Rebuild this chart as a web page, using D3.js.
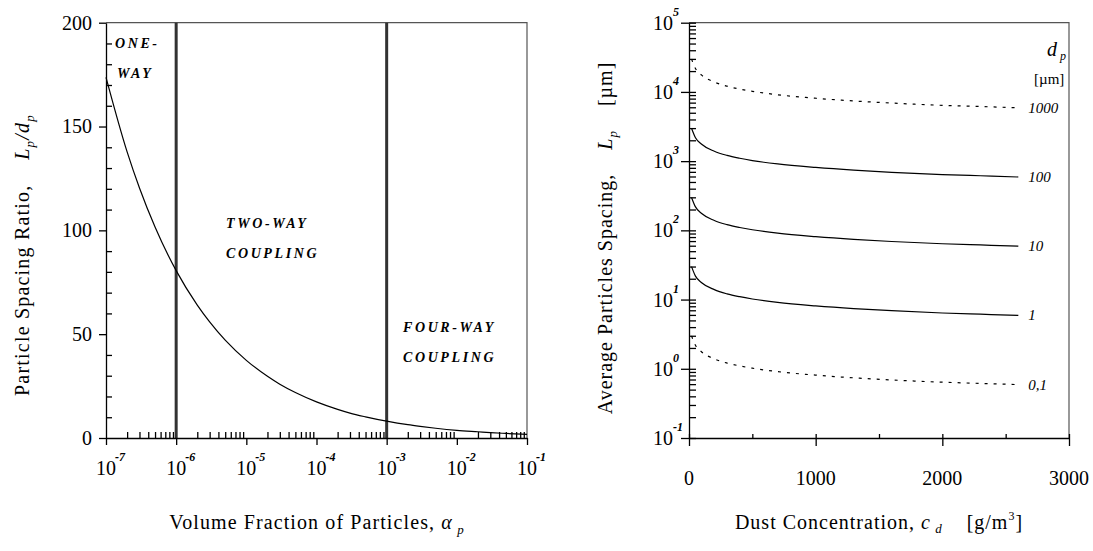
<!DOCTYPE html>
<html>
<head>
<meta charset="utf-8">
<script src="https://cdn.jsdelivr.net/npm/d3@7"></script>
<style>
  body { margin: 0; background: #fff; }
  svg { font-family: "Liberation Serif", serif; }
  text { white-space: pre; }
  .lab { font-weight: bold; font-style: italic; font-size: 14px; letter-spacing: 2.6px; }
</style>
</head>
<body>
<svg width="1093" height="551"></svg>
<script>
// left chart: particle spacing ratio vs volume fraction
const alphaValues = [1e-7, 2e-7, 3e-7, 5e-7, 1e-6, 2e-6, 3e-6, 5e-6, 1e-5, 2e-5, 3e-5, 5e-5,
  1e-4, 2e-4, 3e-4, 5e-4, 1e-3, 2e-3, 3e-3, 5e-3, 1e-2, 2e-2, 3e-2, 5e-2, 1e-1];
const ratioValues = [173.7, 137.8, 120.4, 101.6, 80.6, 64.0, 55.9, 47.1, 37.4, 29.7, 25.9, 21.9,
  17.4, 13.8, 12.0, 10.2, 8.1, 6.4, 5.6, 4.7, 3.7, 3.0, 2.6, 2.2, 1.7];
const leftYTicks = [0, 50, 100, 150, 200];
const leftXExp = [-7, -6, -5, -4, -3, -2, -1];
const regimeBounds = [1e-6, 1e-3];

// right chart: average particle spacing vs dust concentration
const concValues = [20, 50, 100, 200, 300, 400, 500, 700, 1000, 1300, 1600, 2000, 2300, 2600];
const lp1000 = [29900, 22000, 17500, 13900, 12100, 11000, 10200, 9100, 8100, 7400, 6900, 6400, 6150, 5900];
const lp100 = [2990, 2200, 1750, 1390, 1210, 1100, 1020, 910, 810, 740, 690, 640, 615, 590];
const lp10 = [299, 220, 175, 139, 121, 110, 102, 91, 81, 74, 69, 64, 61.5, 59];
const lp1 = [29.9, 22, 17.5, 13.9, 12.1, 11, 10.2, 9.1, 8.1, 7.4, 6.9, 6.4, 6.15, 5.9];
const lp01 = [2.99, 2.2, 1.75, 1.39, 1.21, 1.1, 1.02, 0.91, 0.81, 0.74, 0.69, 0.64, 0.615, 0.59];
const dpLabels = ["1000", "100", "10", "1", "0,1"];
const dpSeries = [lp1000, lp100, lp10, lp1, lp01];
const dpDashed = [true, false, false, false, true];
const rightXTicks = [0, 1000, 2000, 3000];
const rightYExp = [-1, 0, 1, 2, 3, 4, 5];

const svg = d3.select("svg");
const top0 = 22.7, bottom0 = 438;

// ---------- left chart ----------
const lx = d3.scaleLog().domain([1e-7, 1e-1]).range([106, 527]);
const ly = d3.scaleLinear().domain([0, 200]).range([bottom0, top0]);

// frame
svg.append("path")
  .attr("d", `M${lx.range()[0]},${top0}H${lx.range()[1]}V${bottom0}`)
  .attr("fill", "none").attr("stroke", "#555").attr("stroke-width", 1.2);

// regime boundaries
svg.selectAll(".bound").data(regimeBounds).enter().append("line")
  .attr("x1", d => lx(d)).attr("x2", d => lx(d))
  .attr("y1", top0).attr("y2", bottom0)
  .attr("stroke", "#333").attr("stroke-width", 3);

const lMajor = leftXExp.map(e => Math.pow(10, e));
const lMinor = lx.ticks().filter(d => !lMajor.some(m => Math.abs(m - d) / d < 1e-6));

svg.append("g").attr("transform", `translate(0,${bottom0})`)
  .call(d3.axisBottom(lx).tickValues(lMajor).tickSize(7).tickSizeOuter(0).tickFormat(""));
svg.append("g").attr("transform", `translate(0,${bottom0})`)
  .call(d3.axisBottom(lx).tickValues(lMinor).tickSize(-6).tickSizeOuter(0).tickFormat(""))
  .call(g => g.select(".domain").remove());

svg.append("g").attr("transform", `translate(${lx.range()[0]},0)`)
  .call(d3.axisLeft(ly).tickValues(leftYTicks).tickSize(7).tickSizeOuter(0).tickPadding(7))
  .call(g => g.selectAll("text").attr("font-size", 20).attr("font-family", "Liberation Serif"));
svg.append("g").attr("transform", `translate(${lx.range()[0]},0)`)
  .call(d3.axisLeft(ly).tickValues(d3.range(10, 200, 10).filter(d => d % 50 != 0)).tickSize(-6).tickFormat(""))
  .call(g => g.select(".domain").remove());
svg.selectAll(".domain, .tick line").attr("stroke-width", 1.3);

// x tick labels 10^e
const lxl = svg.append("g").selectAll("text").data(leftXExp).enter().append("text")
  .attr("x", d => lx(Math.pow(10, d)) - 10).attr("y", 475).attr("font-size", 20);
lxl.append("tspan").text("10");
lxl.append("tspan").attr("dy", -14).attr("dx", -1).attr("font-size", 12).attr("font-weight", "bold")
  .attr("font-style", "italic").text(d => d);

// curve
const leftLine = d3.line()
  .x((d, i) => lx(alphaValues[i])).y(d => ly(d))
  .curve(d3.curveMonotoneX);
svg.append("path").datum(ratioValues).attr("d", leftLine)
  .attr("fill", "none").attr("stroke", "#000").attr("stroke-width", 1.2);

// regime labels
svg.append("text").attr("class", "lab").attr("x", 115).attr("y", 48).text("ONE-");
svg.append("text").attr("class", "lab").attr("x", 117).attr("y", 78).text("WAY");
svg.append("text").attr("class", "lab").attr("x", 226).attr("y", 228).text("TWO-WAY");
svg.append("text").attr("class", "lab").attr("x", 226).attr("y", 258).text("COUPLING");
svg.append("text").attr("class", "lab").attr("x", 403).attr("y", 332).text("FOUR-WAY");
svg.append("text").attr("class", "lab").attr("x", 403).attr("y", 362).text("COUPLING");

// axis titles
const lxt = svg.append("text").attr("x", 317).attr("y", 529).attr("text-anchor", "middle")
  .attr("font-size", 20).attr("letter-spacing", 1.1);
lxt.append("tspan").text("Volume Fraction of Particles, ");
lxt.append("tspan").attr("font-style", "italic").text("α");
lxt.append("tspan").attr("font-style", "italic").attr("font-size", 13).attr("dy", 5).text(" p");

const lyt = svg.append("text").attr("transform", "translate(29,255) rotate(-90)")
  .attr("text-anchor", "middle").attr("font-size", 20).attr("letter-spacing", 1.2);
lyt.append("tspan").text("Particle Spacing Ratio,    ");
lyt.append("tspan").attr("font-style", "italic").text("L");
lyt.append("tspan").attr("font-style", "italic").attr("font-size", 13).attr("dy", 5).text("p");
lyt.append("tspan").attr("font-style", "italic").attr("dy", -5).text("/d");
lyt.append("tspan").attr("font-style", "italic").attr("font-size", 13).attr("dy", 5).text("p");

// ---------- right chart ----------
const rx = d3.scaleLinear().domain([0, 3000]).range([689, 1069]);
const ry = d3.scaleLog().domain([0.1, 1e5]).range([bottom0, top0]);

svg.append("path")
  .attr("d", `M${rx.range()[0]},${top0}H${rx.range()[1]}V${bottom0}`)
  .attr("fill", "none").attr("stroke", "#555").attr("stroke-width", 1.2);

svg.append("g").attr("transform", `translate(0,${bottom0})`)
  .call(d3.axisBottom(rx).tickValues(rightXTicks).tickSize(8).tickSizeOuter(0).tickFormat(""))
  .call(g => g.selectAll(".tick line").attr("y1", -4));
svg.append("g").attr("transform", `translate(0,${bottom0})`)
  .call(d3.axisBottom(rx).tickValues([500, 1500, 2500]).tickSize(-4).tickFormat(""))
  .call(g => g.select(".domain").remove());

const rMajor = rightYExp.map(e => Math.pow(10, e));
const rMinor = ry.ticks().filter(d => !rMajor.some(m => Math.abs(m - d) / d < 1e-6));
svg.append("g").attr("transform", `translate(${rx.range()[0]},0)`)
  .call(d3.axisLeft(ry).tickValues(rMajor).tickSize(8).tickSizeOuter(0).tickFormat(""))
  .call(g => g.selectAll(".tick line").attr("x2", 7).attr("x1", -8));
svg.append("g").attr("transform", `translate(${rx.range()[0]},0)`)
  .call(d3.axisLeft(ry).tickValues(rMinor).tickSize(-7).tickFormat(""))
  .call(g => g.select(".domain").remove());
svg.selectAll(".domain, .tick line").attr("stroke-width", 1.3);

svg.append("g").selectAll("text").data(rightXTicks).enter().append("text")
  .attr("x", d => rx(d)).attr("y", 485).attr("text-anchor", "middle").attr("font-size", 20)
  .text(d => d);

const ryl = svg.append("g").selectAll("g").data(rightYExp).enter().append("g")
  .attr("transform", d => `translate(0,${ry(Math.pow(10, d))})`);
ryl.append("text").attr("x", 673).attr("y", 7).attr("text-anchor", "end").attr("font-size", 20).text("10");
ryl.append("text").attr("x", 673).attr("y", -7).attr("font-size", 12).attr("font-weight", "bold")
  .attr("font-style", "italic").text(d => d);

const rightLine = d3.line()
  .x((d, i) => rx(concValues[i])).y(d => ry(d))
  .curve(d3.curveMonotoneX);
svg.selectAll(".dp").data(dpSeries).enter().append("path")
  .attr("d", rightLine)
  .attr("fill", "none").attr("stroke", "#000").attr("stroke-width", 1.2)
  .attr("stroke-dasharray", (d, i) => dpDashed[i] ? "3,6" : null);

svg.selectAll(".dpl").data(dpSeries).enter().append("text")
  .attr("x", d => rx(concValues[concValues.length - 1]) + 10)
  .attr("y", d => ry(d[d.length - 1]) + 5)
  .attr("font-size", 15).attr("font-style", "italic")
  .text((d, i) => dpLabels[i]);

const dpt = svg.append("text").attr("x", 1047).attr("y", 56).attr("font-size", 20).attr("font-style", "italic");
dpt.append("tspan").text("d");
dpt.append("tspan").attr("font-size", 12).attr("dy", 4).text(" p");
svg.append("text").attr("x", 1034).attr("y", 84).attr("font-size", 15).text("[µm]");

const rxt = svg.append("text").attr("x", 879).attr("y", 529).attr("text-anchor", "middle")
  .attr("font-size", 20).attr("letter-spacing", 1);
rxt.append("tspan").text("Dust Concentration, ");
rxt.append("tspan").attr("font-style", "italic").text("c");
rxt.append("tspan").attr("font-style", "italic").attr("font-size", 13).attr("dy", 4).text(" d");
rxt.append("tspan").attr("dy", -4).text("    [g/m");
rxt.append("tspan").attr("font-size", 12).attr("dy", -9).text("3");
rxt.append("tspan").attr("dy", 9).text("]");

const ryt = svg.append("text").attr("transform", "translate(612,238) rotate(-90)")
  .attr("text-anchor", "middle").attr("font-size", 20).attr("letter-spacing", 1);
ryt.append("tspan").text("Average Particles Spacing,    ");
ryt.append("tspan").attr("font-style", "italic").text("L");
ryt.append("tspan").attr("font-style", "italic").attr("font-size", 13).attr("dy", 5).text("p");
ryt.append("tspan").attr("dy", -5).text("    [µm]");
</script>
</body>
</html>
